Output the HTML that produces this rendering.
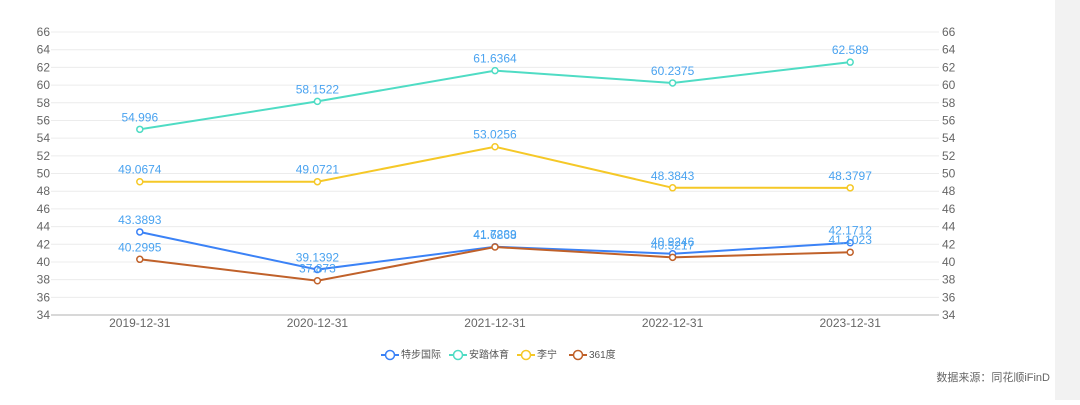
<!DOCTYPE html>
<html><head><meta charset="utf-8"><style>
body{margin:0;background:#fff;width:1080px;height:400px;overflow:hidden;font-family:"Liberation Sans","Noto Sans CJK SC",sans-serif}
</style></head><body>
<svg id="c" width="1080" height="400" xmlns="http://www.w3.org/2000/svg">
<rect x="1055" y="0" width="25" height="400" fill="#f2f2f2"/>
<text x="1050" y="381" text-anchor="end" font-size="11" fill="#666">数据来源：同花顺iFinD</text>
</svg>
<script>
const categories=["2019-12-31","2020-12-31","2021-12-31","2022-12-31","2023-12-31"];
const seriesNames=["特步国际","安踏体育","李宁","361度"];
const xtepValues=[43.3893,39.1392,41.7239,40.9246,42.1712];
const antaValues=[54.996,58.1522,61.6364,60.2375,62.589];
const liningValues=[49.0674,49.0721,53.0256,48.3843,48.3797];
const d361Values=[40.2995,37.873,41.6868,40.5217,41.1023];
const yTicks=[34,36,38,40,42,44,46,48,50,52,54,56,58,60,62,64,66];
const colors=["#3b82f6","#4fdcc4","#f5c827","#c0612a"];
const NS="http://www.w3.org/2000/svg",svg=document.getElementById('c');
const L=51,R=939,T=32,B=315,ymin=34,ymax=66;
const bw=(R-L)/categories.length;
const x=i=>L+bw*(i+0.5);
const y=v=>B-(v-ymin)/(ymax-ymin)*(B-T);
function mk(t,a){const e=document.createElementNS(NS,t);for(const k in a)e.setAttribute(k,a[k]);svg.appendChild(e);return e;}
yTicks.forEach(t=>{
 const g=mk('line',{x1:L,x2:R,y1:y(t),y2:y(t),stroke:t===ymin?'#ccc':'#ececec','stroke-width':t===ymin?1.5:1});
 
 
 const a=mk('text',{x:L-1,y:y(t)+4,'text-anchor':'end','font-size':12,fill:'#666'});a.textContent=t;
 
 
 const b=mk('text',{x:R+3,y:y(t)+4,'font-size':12,fill:'#666'});b.textContent=t;
 
 
});
categories.forEach((c,i)=>{
 const t=mk('text',{x:x(i),y:B+12,'text-anchor':'middle','font-size':12,fill:'#666'});t.textContent=c;
 
 
});
[xtepValues,antaValues,liningValues,d361Values].forEach((vals,s)=>{
 const p=mk('polyline',{points:vals.map((v,i)=>x(i)+','+y(v)).join(' '),fill:'none',stroke:colors[s],'stroke-width':2});
 
 
 vals.forEach((v,i)=>{
  const c=mk('circle',{cx:x(i),cy:y(v),r:3,fill:'#fff',stroke:colors[s],'stroke-width':1.5});
  
  
  const t=mk('text',{x:x(i),y:y(v)-8,'text-anchor':'middle','font-size':12,fill:'#4aa3f0'});t.textContent=v;
  
  
 });
});
const lw=[48,48,32,40];let lx=381;
seriesNames.forEach((n,s)=>{
 const g=mk('line',{x1:lx,x2:lx+18,y1:355,y2:355,stroke:colors[s],'stroke-width':2});
 
 
 const c=mk('circle',{cx:lx+9,cy:355,r:4.5,fill:'#fff',stroke:colors[s],'stroke-width':1.5});
 
 
 const t=mk('text',{x:lx+20,y:358,'font-size':10,fill:'#555'});t.textContent=n;
 
 
 lx+=lw[s]+20;
});
</script>
</body></html>
